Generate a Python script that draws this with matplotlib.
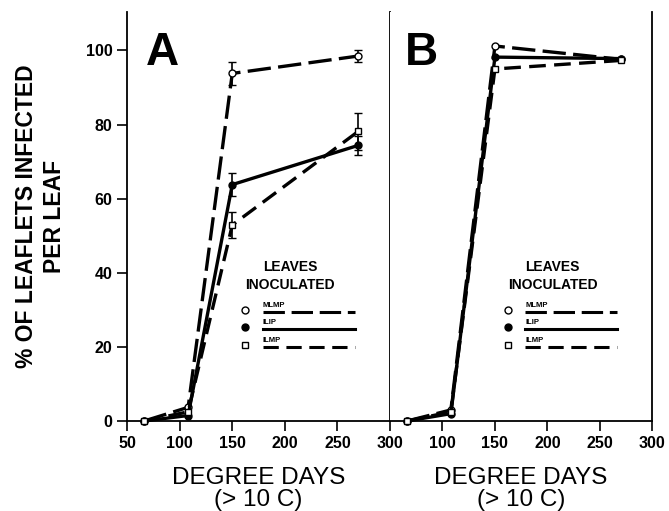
import matplotlib
matplotlib.use('Agg')
import matplotlib.pyplot as plt

plt.rcParams['font.family'] = ['Liberation Sans', 'DejaVu Sans']

days = [66, 108, 150, 270]

# panel A
a_mlmp = [0, 3.7, 93.8, 98.5]
a_mlmp_err = [0, 0, 3, 1.5]
a_ilip = [0, 1.5, 63.8, 74.4]
a_ilip_err = [0, 0, 3, 2.5]
a_ilmp = [0, 2.5, 52.9, 78.2]
a_ilmp_err = [0, 0, 3.5, 5]

# panel B
b_mlmp = [0, 3.0, 101.2, 97.6]
b_ilip = [0, 2.0, 98.2, 97.8]
b_ilmp = [0, 2.5, 95.0, 97.3]

names = ['MLMP', 'ILIP', 'ILMP']
markers = ['o', 'o', 's']
fills = ['white', 'black', 'white']
dashes = [(7, 2.2), None, (5, 2.5, 5, 2.5)]

fig = plt.figure(figsize=(6.69, 5.11), dpi=100)
axA = fig.add_axes([0.19, 0.176, 0.393, 0.8])
axB = fig.add_axes([0.583, 0.176, 0.392, 0.8])


def draw(ax, series, errs):
    for i, ys in enumerate(series):
        kw = dict(color='black', lw=2.4, marker=markers[i], ms=5,
                  mfc=fills[i], mec='black', mew=1, clip_on=False, zorder=3)
        line, = ax.plot(days, ys, **kw)
        if dashes[i]:
            line.set_dashes(dashes[i])
        if errs is not None:
            ax.errorbar(days[2:], ys[2:], yerr=errs[i][2:], fmt='none',
                        ecolor='black', elinewidth=1.2, capsize=3, zorder=2)

    # legend block
    ax.text(0.62, 0.376, 'LEAVES', transform=ax.transAxes, ha='center',
            va='center', fontsize=10, fontweight='bold')
    ax.text(0.62, 0.333, 'INOCULATED', transform=ax.transAxes, ha='center',
            va='center', fontsize=10, fontweight='bold')
    ypos = [0.272, 0.23, 0.187]
    for i in range(3):
        ax.plot([0.45], [ypos[i]], marker=markers[i], ms=5, mfc=fills[i],
                mec='black', mew=1, transform=ax.transAxes, clip_on=False)
        ax.text(0.515, ypos[i] + 0.002, names[i], transform=ax.transAxes,
                ha='left', va='bottom', fontsize=5.5, fontweight='bold')
        ln, = ax.plot([0.515, 0.865], [ypos[i] - 0.006] * 2, color='black',
                      lw=2.2, transform=ax.transAxes, clip_on=False)
        if dashes[i]:
            ln.set_dashes(dashes[i])

    ax.set_xlim(50, 300)
    ax.set_ylim(0, 110.3)
    ax.spines['top'].set_visible(False)
    for s in ax.spines.values():
        s.set_linewidth(1.3)
    ax.tick_params(direction='out', length=7, width=1.2, labelsize=11.5)
    ax.set_xlabel('DEGREE DAYS\n(> 10 C)', fontsize=17.5, linespacing=1.0,
                  labelpad=12)


draw(axA, [a_mlmp, a_ilip, a_ilmp], [a_mlmp_err, a_ilip_err, a_ilmp_err])
axA.set_xticks([50, 100, 150, 200, 250, 300])
axA.set_yticks([0, 20, 40, 60, 80, 100])
for lab in axA.get_xticklabels() + axA.get_yticklabels():
    lab.set_fontweight('bold')
axA.set_ylabel('% OF LEAFLETS INFECTED\nPER LEAF', fontsize=16.5,
               fontweight='bold', linespacing=1.3, labelpad=14)
axA.text(0.07, 0.955, 'A', transform=axA.transAxes, fontsize=33,
         fontweight='bold', va='top')

draw(axB, [b_mlmp, b_ilip, b_ilmp], None)
axB.set_xticks([100, 150, 200, 250, 300])
for lab in axB.get_xticklabels():
    lab.set_fontweight('bold')
axB.set_yticks([])
axB.spines['left'].set_visible(False)
axB.text(0.055, 0.955, 'B', transform=axB.transAxes, fontsize=33,
         fontweight='bold', va='top')

fig.savefig('out.png', dpi=100)
